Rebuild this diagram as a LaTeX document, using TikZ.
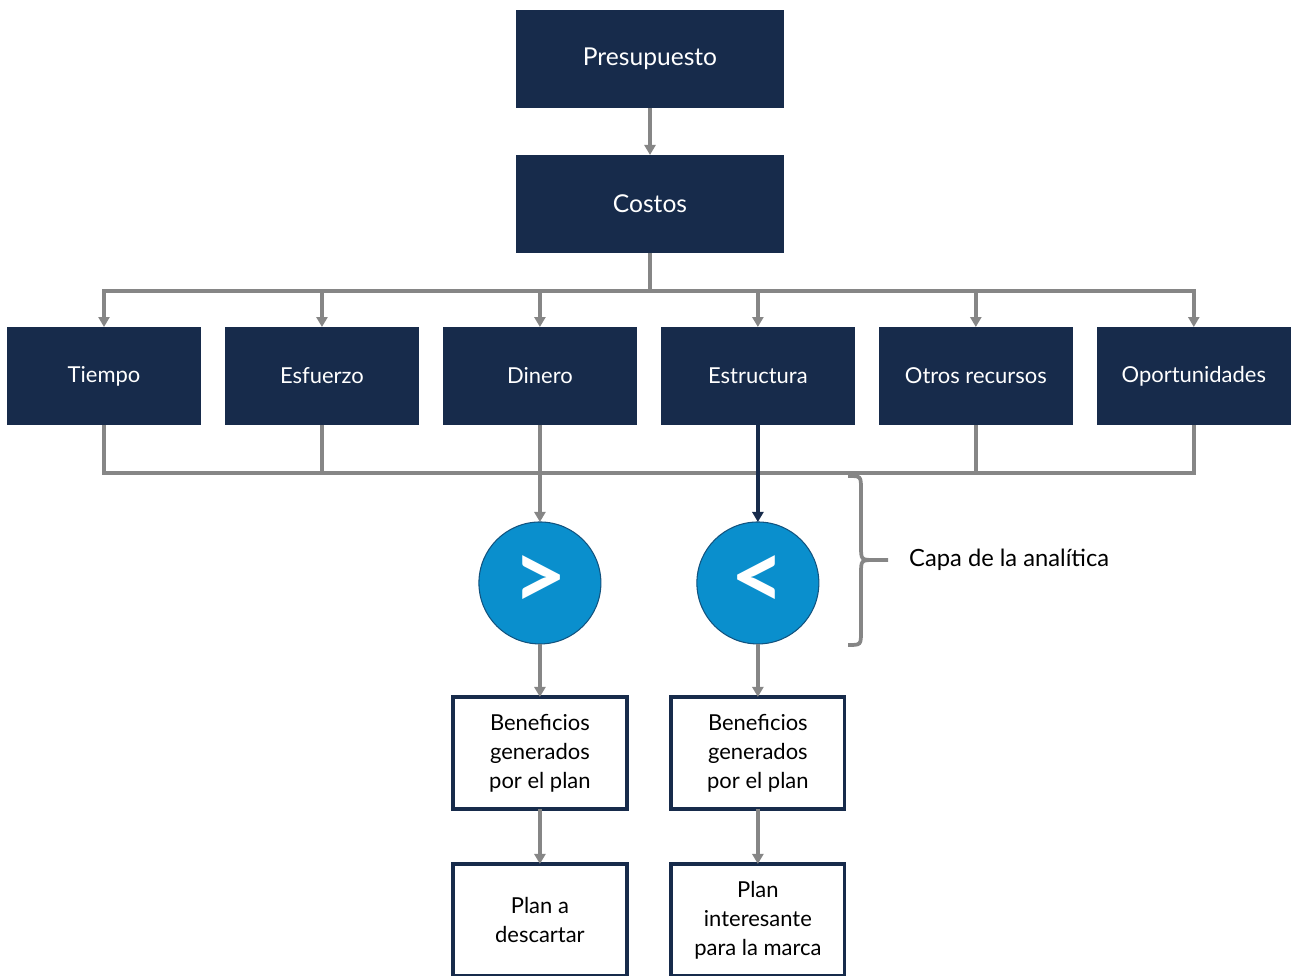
\documentclass[tikz,border=0pt]{standalone}
\usepackage{fontspec}
\setmainfont{Lato}
\usetikzlibrary{arrows.meta, positioning}

\definecolor{navy}{HTML}{172B4B}
\definecolor{celeste}{HTML}{0A8FCD}
\definecolor{gris}{HTML}{868686}

\begin{document}
\begin{tikzpicture}[x = 0.02cm, y = -0.02cm,
      node distance = 0.48cm,
      caja/.style = {rectangle, fill=navy, text=white, outer sep=0pt,
                     minimum width=3.88cm, minimum height=1.96cm,
                     font=\fontsize{12.5}{15}\selectfont},
      grande/.style = {caja, minimum width=5.38cm,
                       font=\fontsize{14}{17}\selectfont},
      signo/.style = {circle, fill=celeste, draw=navy!60!celeste, line width=0.6pt,
                      text=white, outer sep=0pt, minimum size=2.44cm, inner sep=0pt,
                      font=\fontsize{54}{54}\selectfont\bfseries},
      blanca/.style = {rectangle, draw=navy, line width=0.065cm, fill=white,
                       outer sep=0pt, minimum width=3.48cm, minimum height=2.24cm,
                       align=center, font=\fontsize{12.5}{16.5}\selectfont},
      linea/.style = {draw=gris, line width=0.075cm},
      flecha/.style = {linea, -{Triangle[length=0.2cm, width=0.22cm]}}]
  \useasboundingbox (0,0) rectangle (1294,976);

  % jerarquia superior
  \node[grande] (pres) at (650,59) {Presupuesto};
  \node[grande] (costos) [below=0.94cm of pres] {Costos};

  % fila de recursos
  \node[caja] (tiempo) at (104,376) {Tiempo};
  \node[caja] (esfuerzo) [right=of tiempo] {Esfuerzo};
  \node[caja] (dinero) [right=of esfuerzo] {Dinero};
  \node[caja] (estructura) [right=of dinero] {Estructura};
  \node[caja] (otros) [right=of estructura] {Otros recursos};
  \node[caja] (oport) [right=of otros] {Oportunidades};

  % capa de la analitica
  \node[signo] (mayor) [below=1.94cm of dinero] {>};
  \node[signo] (menor) [below=1.94cm of estructura] {<};

  \node[blanca] (benef1) [below=1.06cm of mayor] {Beneficios\\generados\\por el plan};
  \node[blanca] (benef2) [below=1.06cm of menor] {Beneficios\\generados\\por el plan};
  \node[blanca] (descartar) [below=1.1cm of benef1] {Plan a\\descartar};
  \node[blanca] (interesante) [below=1.1cm of benef2] {Plan\\interesante\\para la marca};

  \node[anchor=west, font=\fontsize{13.5}{16}\selectfont] (capa) at (903,560) {Capa de la analítica};

  % conectores
  \draw[flecha] (pres) -- (costos);
  \draw[linea] (costos.south) -- ++(0,38) coordinate (bus);
  \foreach \b in {tiempo, esfuerzo, dinero, estructura, otros, oport}
    \draw[flecha] (bus) -| (\b.north);

  \coordinate (bajo) at (0,473);
  \draw[linea] (tiempo.south) |- (bajo -| oport.south) -- (oport.south);
  \draw[linea] (esfuerzo.south) -- (esfuerzo.south |- bajo);
  \draw[linea] (otros.south) -- (otros.south |- bajo);

  \draw[flecha] (dinero) -- (mayor);
  \draw[flecha, draw=navy] (estructura) -- (menor);
  \draw[flecha] (mayor) -- (benef1);
  \draw[flecha] (menor) -- (benef2);
  \draw[flecha] (benef1) -- (descartar);
  \draw[flecha] (benef2) -- (interesante);

  % llave
  \draw[linea] (848,476) .. controls (861,476) .. (861,490) -- (861,546)
        .. controls (861,560) .. (875,560) -- (888,560);
  \draw[linea] (848,645) .. controls (861,645) .. (861,631) -- (861,574)
        .. controls (861,560) .. (875,560);
\end{tikzpicture}
\end{document}
